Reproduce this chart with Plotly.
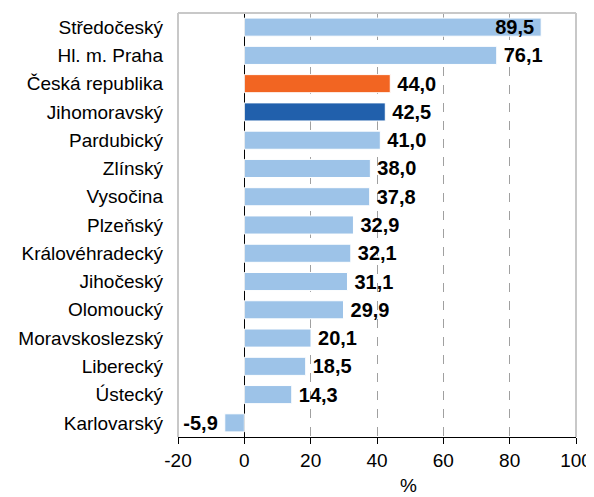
import plotly.graph_objects as go

categories = ["Středočeský", "Hl. m. Praha", "Česká republika", "Jihomoravský", "Pardubický",
              "Zlínský", "Vysočina", "Plzeňský", "Královéhradecký", "Jihočeský", "Olomoucký",
              "Moravskoslezský", "Liberecký", "Ústecký", "Karlovarský"]
values = [89.5, 76.1, 44.0, 42.5, 41.0, 38.0, 37.8, 32.9, 32.1, 31.1, 29.9, 20.1, 18.5, 14.3, -5.9]
x_ticks = [-20, 0, 20, 40, 60, 80, 100]
x_title = "%"

LIGHT = "#9DC3E8"
ORANGE = "#F26522"
DARK = "#2160AC"
colors = [ORANGE if c == "Česká republika" else DARK if c == "Jihomoravský" else LIGHT for c in categories]
positions = ["inside" if v > 85 else "outside" for v in values]
SP = "\u2009"
labels = []
for v, p in zip(values, positions):
    s = f"{v:.1f}".replace(".", ",")
    if p == "inside" or v < 0:
        s = s + SP
    else:
        s = SP + s
    labels.append(s)

FONT = "Liberation Sans, Arial"
vfont = dict(family=FONT, size=20, color="black", weight="bold")

fig = go.Figure(go.Bar(
    y=categories, x=values, orientation="h",
    marker=dict(color=colors, line=dict(color="white", width=1)),
    text=labels, textposition=positions, insidetextanchor="end",
    textfont=vfont, insidetextfont=vfont, outsidetextfont=vfont,
    cliponaxis=False, constraintext="none",
))

# page body has an 8px margin, so the figure is sized to fit the 594x497 window
fig.update_layout(
    width=586, height=489,
    margin=dict(l=170, r=18, t=5, b=60, autoexpand=False),
    plot_bgcolor="white", paper_bgcolor="white",
    bargap=0.36, showlegend=False,
    font=dict(family=FONT, size=19, color="black"),
    xaxis=dict(range=[-20, 100], tickvals=x_ticks, ticktext=[str(t) for t in x_ticks],
               tickfont=dict(size=19), showgrid=True, gridcolor="#A0A0A0", griddash="dash",
               gridwidth=1, zeroline=True, zerolinecolor="black", zerolinewidth=1,
               showline=True, linecolor="black", linewidth=1, ticks="outside",
               ticklen=6, tickcolor="black", mirror=False, automargin=False),
    yaxis=dict(autorange="reversed", tickfont=dict(size=19), ticks="", ticklabelstandoff=14,
               showline=False, automargin=False),
    annotations=[dict(text=x_title, x=0.58, xref="paper", y=0, yref="paper",
                      xanchor="center", yanchor="top", yshift=-36, showarrow=False,
                      font=dict(size=19))],
    shapes=[
        dict(type="line", xref="paper", yref="paper", x0=0, x1=0, y0=0, y1=1,
             line=dict(color="#C8C8C8", width=2)),
        dict(type="line", xref="paper", yref="paper", x0=1, x1=1, y0=0, y1=1,
             line=dict(color="#C8C8C8", width=2)),
        dict(type="line", xref="paper", yref="paper", x0=0, x1=1, y0=1, y1=1,
             line=dict(color="#C8C8C8", width=2)),
    ],
)

fig.write_html("out.html")
